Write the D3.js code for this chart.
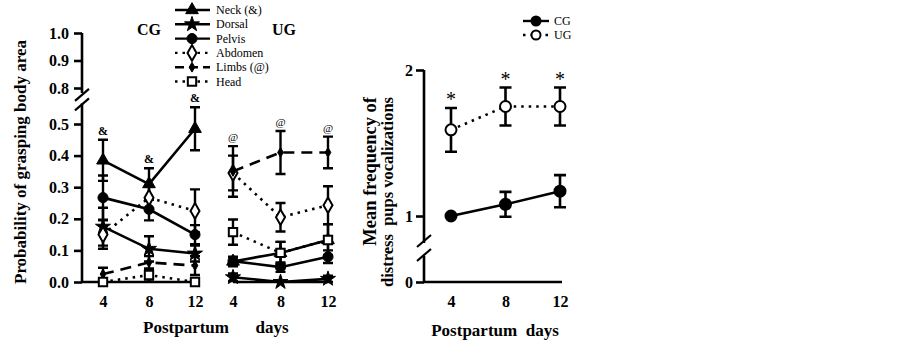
<!DOCTYPE html>
<html>
<head>
<meta charset="utf-8">
<script src="https://cdn.jsdelivr.net/npm/d3@7"></script>
<style>
  body { margin: 0; background: #fff; }
  svg { display: block; }
  svg text { font-family: "Liberation Serif", "Times New Roman", Times, serif !important; fill: #000; }
</style>
</head>
<body>
<svg id="chart" width="900" height="346"></svg>
<script>
// ---- data ----
const days = [4, 8, 12]
const seriesNames = ["Neck (&)", "Dorsal", "Pelvis", "Abdomen", "Limbs (@)", "Head"]
const keys = ["neck", "dorsal", "pelvis", "abdomen", "limbs", "head"]

// left panel, control group
const cgNeck = [0.385, 0.31, 0.485]
const cgNeckErr = [0.065, 0.05, 0.068]
const cgDorsal = [0.175, 0.105, 0.09]
const cgDorsalErr = [0.06, 0.04, 0.025]
const cgPelvis = [0.267, 0.23, 0.15]
const cgPelvisErr = [0.07, 0.035, 0.03]
const cgAbdomen = [0.15, 0.267, 0.225]
const cgAbdomenErr = [0.045, 0.035, 0.068]
const cgLimbs = [0.025, 0.062, 0.052]
const cgLimbsErr = [0.02, 0.02, 0.03]
const cgHead = [0, 0.022, 0]
const cgHeadErr = [0, 0.02, 0]

// left panel, UG
const ugNeck = [0.065, 0.092, 0.133]
const ugNeckErr = [0.015, 0.035, 0.05]
const ugDorsal = [0.015, 0.0, 0.01]
const ugDorsalErr = [0.012, 0, 0.01]
const ugPelvis = [0.066, 0.047, 0.08]
const ugPelvisErr = [0.012, 0.015, 0.02]
const ugAbdomen = [0.345, 0.205, 0.243]
const ugAbdomenErr = [0.055, 0.045, 0.06]
const ugLimbs = [0.35, 0.41, 0.41]
const ugLimbsErr = [0.08, 0.068, 0.05]
const ugHead = [0.158, 0.092, 0.133]
const ugHeadErr = [0.04, 0.035, 0.05]

const cgMarks = ["&", "&", "&"]   // over Neck, CG
const ugMarks = ["@", "@", "@"]   // over Limbs, UG

const yTicksHi = [0.8, 0.9, 1.0]
const yTicksLo = [0, 0.1, 0.2, 0.3, 0.4, 0.5]

// right panel
const vocCG = [1.0, 1.08, 1.17]
const vocCGErr = [0, 0.085, 0.11]
const vocUG = [1.59, 1.75, 1.75]
const vocUGErr = [0.15, 0.13, 0.13]
const vocStars = ["*", "*", "*"]

// ---- styles per series ----
const style = {
  neck:    { dash: null,      sym: d3.symbolTriangle, size: 70, fill: "#000" },
  dorsal:  { dash: null,      sym: d3.symbolStar,     size: 70, fill: "#000" },
  pelvis:  { dash: null,      sym: d3.symbolCircle,   size: 80, fill: "#000" },
  abdomen: { dash: "2.5,5",   sym: d3.symbolDiamond,  size: 70, fill: "#fff" },
  limbs:   { dash: "11,7",    sym: d3.symbolDiamond,  size: 28, fill: "#000" },
  head:    { dash: "2.5,5",   sym: d3.symbolSquare,   size: 70, fill: "#fff" }
}

const svg = d3.select("#chart")

// ---- left panel scales ----
const axisX = 82
const yLo = d3.scaleLinear().domain([0, 0.5]).range([282, 124])
const yHi = d3.scaleLinear().domain([0.8, 1.0]).range([88, 33])
const xCG = d3.scaleLinear().domain([4, 12]).range([103, 195])
const xUG = d3.scaleLinear().domain([4, 12]).range([233, 328])

const left = svg.append("g")

// y axis segments
left.append("g")
  .attr("transform", `translate(${axisX},0)`)
  .call(d3.axisLeft(yLo).tickValues(yTicksLo).tickFormat(d3.format(".1f")).tickSize(8).tickSizeOuter(0))
  .call(g => g.select(".domain").attr("d", `M0,${yLo(0)}V${yLo(0.565)}`))
left.append("g")
  .attr("transform", `translate(${axisX},0)`)
  .call(d3.axisLeft(yHi).tickValues(yTicksHi).tickFormat(d3.format(".1f")).tickSize(8).tickSizeOuter(0))
  .call(g => g.select(".domain").attr("d", `M0,${yHi(1.0)}V${yHi(0.782)}`))

left.selectAll(".domain, .tick line").attr("stroke", "#000").attr("stroke-width", 2.6)
left.selectAll(".tick text")
  .attr("font-size", 16).attr("font-weight", "bold").attr("x", -13)

// axis break slashes
const breakL = [yHi(0.782) + 2, yLo(0.565) + 1]
left.selectAll("line.brk").data(breakL).join("line")
  .attr("x1", axisX - 7).attr("x2", axisX + 7)
  .attr("y1", d => d + 6).attr("y2", d => d - 6)
  .attr("stroke", "#000").attr("stroke-width", 2.2)

// x axis (CG) + baseline (UG)
const xAxisCG = left.append("g").attr("transform", `translate(0,${yLo(0)})`)
  .call(d3.axisBottom(xCG).tickValues(days).tickSize(0).tickPadding(14))
xAxisCG.select(".domain").attr("d", `M${axisX},0H200`).attr("stroke", "#000").attr("stroke-width", 2.6)
const xAxisUG = left.append("g").attr("transform", `translate(0,${yLo(0)})`)
  .call(d3.axisBottom(xUG).tickValues(days).tickSize(0).tickPadding(14))
xAxisUG.select(".domain").attr("d", `M${xUG(4)},0H${xUG(12)}`).attr("stroke", "#000").attr("stroke-width", 2.4)
xAxisCG.selectAll(".tick text").attr("font-size", 16).attr("font-weight", "bold").attr("x", null)
xAxisUG.selectAll(".tick text").attr("font-size", 16).attr("font-weight", "bold").attr("x", null)
svg.selectAll("g").attr("font-family", null)

// axis titles
left.append("text")
  .attr("transform", `translate(26,162) rotate(-90)`)
  .attr("text-anchor", "middle").attr("font-size", 17).attr("font-weight", "bold")
  .text("Probability of grasping body area")
left.append("text").attr("x", 186).attr("y", 333).attr("text-anchor", "middle")
  .attr("font-size", 17).attr("font-weight", "bold").text("Postpartum")
left.append("text").attr("x", 272).attr("y", 333).attr("text-anchor", "middle")
  .attr("font-size", 17).attr("font-weight", "bold").text("days")
left.append("text").attr("x", 149).attr("y", 35).attr("text-anchor", "middle")
  .attr("font-size", 16).attr("font-weight", "bold").text("CG")
left.append("text").attr("x", 284).attr("y", 35).attr("text-anchor", "middle")
  .attr("font-size", 16).attr("font-weight", "bold").text("UG")

// build group tables
const cgData = {
  neck: [cgNeck, cgNeckErr], dorsal: [cgDorsal, cgDorsalErr], pelvis: [cgPelvis, cgPelvisErr],
  abdomen: [cgAbdomen, cgAbdomenErr], limbs: [cgLimbs, cgLimbsErr], head: [cgHead, cgHeadErr]
}
const ugData = {
  neck: [ugNeck, ugNeckErr], dorsal: [ugDorsal, ugDorsalErr], pelvis: [ugPelvis, ugPelvisErr],
  abdomen: [ugAbdomen, ugAbdomenErr], limbs: [ugLimbs, ugLimbsErr], head: [ugHead, ugHeadErr]
}

function drawGroup(table, xs) {
  const g = left.append("g")
  const rows = keys.map(k => ({
    key: k,
    pts: days.map((d, i) => ({ x: d, v: table[k][0][i], e: table[k][1][i] }))
  }))
  const line = d3.line().x(p => xs(p.x)).y(p => yLo(p.v))
  // lines
  g.selectAll("path.ln").data(rows).join("path")
    .attr("d", r => line(r.pts)).attr("fill", "none")
    .attr("stroke", "#000").attr("stroke-width", 2.6)
    .attr("stroke-dasharray", r => style[r.key].dash)
  // error bars
  rows.forEach(r => {
    r.pts.filter(p => p.e > 0).forEach(p => {
      const x = xs(p.x), y1 = yLo(p.v + p.e), y2 = yLo(Math.max(0, p.v - p.e))
      g.append("path")
        .attr("d", `M${x},${y1}V${y2}M${x - 5},${y1}H${x + 5}M${x - 5},${y2}H${x + 5}`)
        .attr("stroke", "#000").attr("stroke-width", 2.4).attr("fill", "none")
    })
  })
  // markers
  rows.forEach(r => {
    const s = style[r.key]
    g.selectAll(null).data(r.pts).join("path")
      .attr("transform", p => `translate(${xs(p.x)},${yLo(p.v)})`)
      .attr("d", d3.symbol(s.sym, s.size))
      .attr("fill", s.fill).attr("stroke", "#000").attr("stroke-width", s.fill === "#fff" ? 2 : 1)
  })
  return rows
}

drawGroup(cgData, xCG)
drawGroup(ugData, xUG)

// significance marks
left.selectAll("text.amp").data(days).join("text")
  .attr("x", d => xCG(d)).attr("y", (d, i) => yLo(cgNeck[i] + cgNeckErr[i]) - 5)
  .attr("text-anchor", "middle").attr("font-size", 12).attr("font-weight", "bold")
  .text((d, i) => cgMarks[i])
left.selectAll("text.at").data(days).join("text")
  .attr("x", d => xUG(d)).attr("y", (d, i) => yLo(ugLimbs[i] + ugLimbsErr[i]) - 5)
  .attr("text-anchor", "middle").attr("font-size", 11)
  .text((d, i) => ugMarks[i])

// legend (left)
const leg = left.append("g").attr("transform", "translate(175,10)")
const legRow = leg.selectAll("g").data(keys).join("g")
  .attr("transform", (k, i) => `translate(0,${i * 14.3})`)
legRow.append("line").attr("x1", 0).attr("x2", 35)
  .attr("stroke", "#000").attr("stroke-width", 2.4)
  .attr("stroke-dasharray", k => k === "limbs" ? "9,5" : style[k].dash)
legRow.append("path").attr("transform", "translate(17,0)")
  .attr("d", k => d3.symbol(style[k].sym, style[k].size)())
  .attr("fill", k => style[k].fill).attr("stroke", "#000")
  .attr("stroke-width", k => style[k].fill === "#fff" ? 2 : 1)
legRow.append("text").attr("x", 41).attr("y", 4).attr("font-size", 12)
  .text((k, i) => seriesNames[i])

// ---- right panel ----
const right = svg.append("g")
const rAxisX = 424
const yR = d3.scaleLinear().domain([1, 2]).range([216, 70])
const yR0 = 282
const xR = d3.scaleLinear().domain([4, 12]).range([451, 560])

right.append("g").attr("transform", `translate(${rAxisX},0)`)
  .call(d3.axisLeft(yR).tickValues([1, 2]).tickFormat(d3.format("d")).tickSize(8).tickSizeOuter(0))
  .call(g => g.select(".domain").attr("d", `M0,${yR(2)}V243`))
right.append("g").attr("transform", `translate(${rAxisX},0)`)
  .call(d3.axisLeft(d3.scaleLinear().domain([0, 1]).range([yR0, yR0 - 146])).tickValues([0]).tickFormat(d3.format("d")).tickSize(8).tickSizeOuter(0))
  .call(g => g.select(".domain").attr("d", `M0,${yR0}V256`))
right.selectAll(".domain, .tick line").attr("stroke", "#000").attr("stroke-width", 2.6)
right.selectAll(".tick text").attr("font-size", 16).attr("font-weight", "bold").attr("x", -11)

right.selectAll("line.brk").data([241, 255]).join("line")
  .attr("x1", rAxisX - 7).attr("x2", rAxisX + 7)
  .attr("y1", d => d + 6).attr("y2", d => d - 6)
  .attr("stroke", "#000").attr("stroke-width", 2.2)

const xAxisR = right.append("g").attr("transform", `translate(0,${yR0})`)
  .call(d3.axisBottom(xR).tickValues(days).tickSize(0).tickPadding(14))
xAxisR.select(".domain").attr("d", `M${rAxisX},0H562`).attr("stroke", "#000").attr("stroke-width", 2.6)
xAxisR.selectAll("text").attr("font-size", 16).attr("font-weight", "bold").attr("x", null)
svg.selectAll("g").attr("font-family", null)

right.append("text").attr("transform", "translate(376,97) rotate(-90)")
  .attr("text-anchor", "end").attr("font-size", 18.5).attr("font-weight", "bold")
  .text("Mean frequency of")
right.append("text").attr("transform", "translate(393,97) rotate(-90)")
  .attr("text-anchor", "end").attr("font-size", 16.5).attr("font-weight", "bold")
  .style("white-space", "pre")
  .text("distress  pups vocalizations")
right.append("text").attr("x", 495).attr("y", 336).attr("text-anchor", "middle")
  .attr("font-size", 17).attr("font-weight", "bold")
  .style("white-space", "pre").text("Postpartum  days")

const vocRows = [
  { name: "CG", vals: vocCG, errs: vocCGErr, dash: null, fill: "#000" },
  { name: "UG", vals: vocUG, errs: vocUGErr, dash: "2.5,5", fill: "#fff" }
]
const vLine = d3.line().x((v, i) => xR(days[i])).y(v => yR(v))
vocRows.forEach(r => {
  right.append("path").attr("d", vLine(r.vals)).attr("fill", "none")
    .attr("stroke", "#000").attr("stroke-width", 2.6).attr("stroke-dasharray", r.dash)
  r.vals.forEach((v, i) => {
    if (r.errs[i] > 0) {
      const x = xR(days[i]), y1 = yR(v + r.errs[i]), y2 = yR(v - r.errs[i])
      right.append("path")
        .attr("d", `M${x},${y1}V${y2}M${x - 6},${y1}H${x + 6}M${x - 6},${y2}H${x + 6}`)
        .attr("stroke", "#000").attr("stroke-width", 2.6).attr("fill", "none")
    }
  })
  right.selectAll(null).data(r.vals).join("circle")
    .attr("cx", (v, i) => xR(days[i])).attr("cy", v => yR(v)).attr("r", 5.5)
    .attr("fill", r.fill).attr("stroke", "#000").attr("stroke-width", 2)
})

right.selectAll("text.star").data(days).join("text")
  .attr("x", d => xR(d)).attr("y", (d, i) => yR(vocUG[i] + vocUGErr[i]) - 2)
  .attr("text-anchor", "middle").attr("font-size", 20)
  .text((d, i) => vocStars[i])

// legend (right)
const leg2 = right.append("g").attr("transform", "translate(523,21)")
const leg2Row = leg2.selectAll("g").data(vocRows).join("g")
  .attr("transform", (r, i) => `translate(0,${i * 14})`)
leg2Row.append("line").attr("x1", 0).attr("x2", 26)
  .attr("stroke", "#000").attr("stroke-width", 2.4).attr("stroke-dasharray", r => r.dash)
leg2Row.append("circle").attr("cx", 13).attr("r", 4.5)
  .attr("fill", r => r.fill).attr("stroke", "#000").attr("stroke-width", 2)
leg2Row.append("text").attr("x", 31).attr("y", 4).attr("font-size", 12).text(r => r.name)
</script>
</body>
</html>
